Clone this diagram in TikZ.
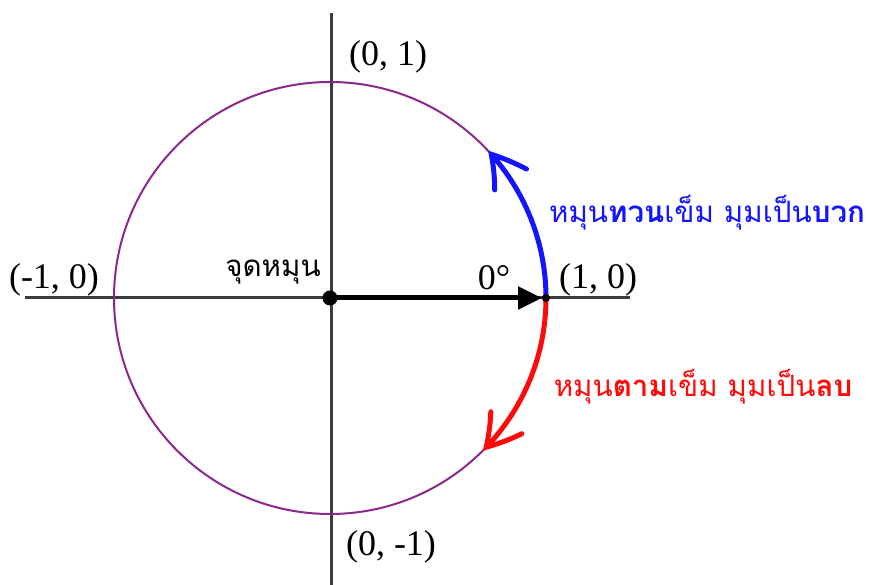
\documentclass[tikz,border=0pt]{standalone}
\usepackage{fontspec}
\setmainfont{Liberation Serif}
\newfontfamily\thaifont[Script=Thai]{Loma}
\usetikzlibrary{arrows.meta,bending}
\definecolor{circpurple}{RGB}{140,40,140}
\definecolor{axisgray}{RGB}{60,60,60}
\definecolor{rotblue}{RGB}{20,20,255}
\definecolor{rotred}{RGB}{255,10,10}
\tikzset{
  coordlabel/.style={inner sep=0pt, font=\fontsize{36}{40}\selectfont},
  thailabel/.style={inner sep=0pt, font=\thaifont\fontsize{29.5}{34}\selectfont},
  axisline/.style={draw=axisgray, line width=3pt},
  rotarrow/.style={line width=5pt, line cap=round, -{Straight Barb[length=32pt,width=38pt,line cap=round,bend]}},
}
\begin{document}
\begin{tikzpicture}[x=1pt,y=1pt]
\useasboundingbox (0,0) rectangle (869,585);
\coordinate (O) at (330,287);
\coordinate (P) at (546,287);
\coordinate (axL) at (25,287);
\coordinate (axR) at (630,287);
\coordinate (axT) at (331,572);
\coordinate (axB) at (331,0);
\draw[axisline] (axL) -- (axR);
\draw[axisline] (axT) -- (axB);
\draw[circpurple, line width=2pt] (O) circle[radius=216];
\draw[rotblue, rotarrow] (P) arc[start angle=0, end angle=43, radius=216];
\draw[rotred, rotarrow] (P) arc[start angle=0, end angle=-45, radius=216];
\draw[line width=5pt, -{Triangle[length=24pt,width=22pt]}] (O) -- ([xshift=-4pt]P);
\fill (O) circle[radius=7.5];
\fill[black] (P) circle[radius=4];
\node[coordlabel] (t01) at (388,528) {(0, 1)};
\node[coordlabel] (t0m1) at (391,38) {(0, -1)};
\node[coordlabel] (tm10) at (54,305) {(-1, 0)};
\node[coordlabel] (t10) at (598,305) {(1, 0)};
\node[coordlabel] (tdeg) at (494,307) {0\textdegree};
\node[thailabel] (tpivot) at (273,313) {จุดหมุน};
\node[thailabel, text=rotblue] (tccw) at (707,372) {หมุน\textbf{ทวน}เข็ม มุมเป็น\textbf{บวก}};
\node[thailabel, text=rotred] (tcw) at (703,198) {หมุน\textbf{ตาม}เข็ม มุมเป็น\textbf{ลบ}};
\end{tikzpicture}
\end{document}
